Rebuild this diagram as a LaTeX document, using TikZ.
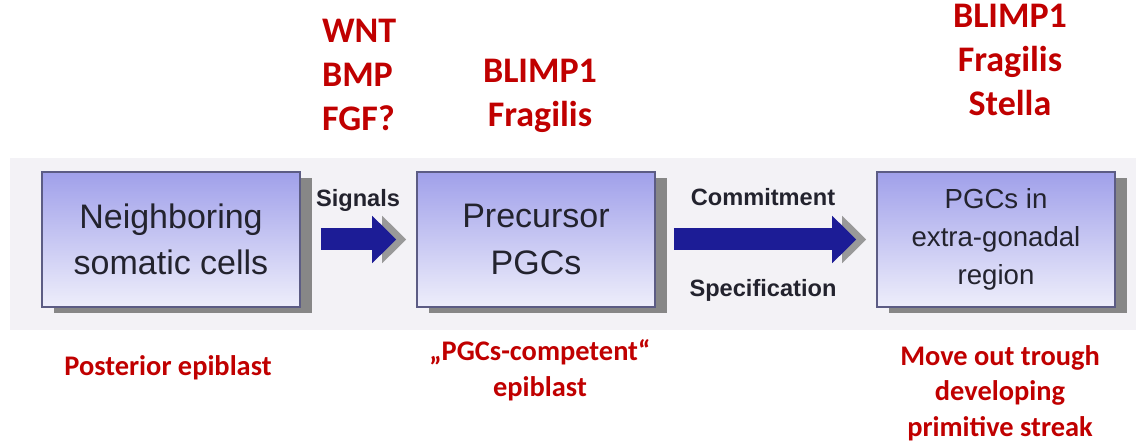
\documentclass[tikz,border=0pt]{standalone}
\usepackage{fontspec}
\setmainfont{Liberation Sans}
\newfontfamily\calibri{Carlito}
\usetikzlibrary{arrows.meta,shadows}
\usepackage{xcolor}

\definecolor{stripgray}{HTML}{F3F2F6}
\definecolor{boxtop}{HTML}{A0A0EA}
\definecolor{boxbottom}{HTML}{EEEEFB}
\definecolor{boxline}{HTML}{5C5C84}
\definecolor{boxtext}{HTML}{23232E}
\definecolor{arrowblue}{HTML}{1C1C96}
\definecolor{markerred}{HTML}{C00000}

\tikzset{
  cellbox/.style={draw=boxline, line width=0.8pt, top color=boxtop, bottom color=boxbottom,
    minimum height=67.5pt, text=boxtext, align=center,
    drop shadow={shadow xshift=6pt, shadow yshift=-3pt, fill=black!47, opacity=1}},
  steplabel/.style={font=\bfseries\fontsize{11.8}{14}\selectfont, text=boxtext},
  markers/.style={text=markerred, align=center, font=\calibri\bfseries\fontsize{18}{22}\selectfont},
  stage/.style={text=markerred, align=center, font=\calibri\bfseries\fontsize{14.2}{17.75}\selectfont},
  blockarrow/.style={line width=11pt, draw=arrowblue, -{Triangle[length=12pt,width=23pt]}},
}

\begin{document}
\begin{tikzpicture}[x=0.5pt,y=-0.5pt]
\useasboundingbox (0,0) rectangle (1136,443);

% Background strip
\fill[stripgray] (10,158) rectangle (1136,330);

% Boxes
\node[cellbox, minimum width=129pt, font=\fontsize{17}{23}\selectfont] (somatic) at (171,239.5)
  {Neighboring\\somatic cells};
\node[cellbox, minimum width=119pt, font=\fontsize{17}{23.5}\selectfont] (precursor) at (536,239.5)
  {Precursor\\PGCs};
\node[cellbox, minimum width=119pt, font=\fontsize{13.8}{19}\selectfont] (extragonadal) at (996,239.5)
  {PGCs in\\extra-gonadal\\region};

% Block arrows (grey copy first as shadow)
\draw[blockarrow, draw=black!40] ([xshift=15pt]somatic.east) -- ([xshift=-5pt]precursor.west);
\draw[blockarrow] ([xshift=10pt]somatic.east) -- ([xshift=-10pt]precursor.west);
\draw[blockarrow, draw=black!40] ([xshift=14pt]precursor.east) -- ([xshift=-5pt]extragonadal.west);
\draw[blockarrow] ([xshift=9pt]precursor.east) -- ([xshift=-10pt]extragonadal.west);

% Arrow labels
\node[steplabel] (signals) at (358,200) {Signals};
\node[steplabel] (commitment) at (763,197) {Commitment};
\node[steplabel] (specification) at (763,290) {Specification};

% Marker genes
\node[markers, align=left, anchor=west] (signalgenes) at (315,75) {WNT\\BMP\\FGF?};
\node[markers] (precursorgenes) at (540,96) {BLIMP1\\Fragilis};
\node[markers] (migratinggenes) at (1010,60) {BLIMP1\\Fragilis\\Stella};

% Stage notes
\node[stage] (posterior) at (168,368) {Posterior epiblast};
\node[stage] (competent) at (540,370) {„PGCs-competent“\\epiblast};
\node[stage] (streak) at (1000,393) {Move out trough\\developing\\primitive streak};

\end{tikzpicture}
\end{document}
